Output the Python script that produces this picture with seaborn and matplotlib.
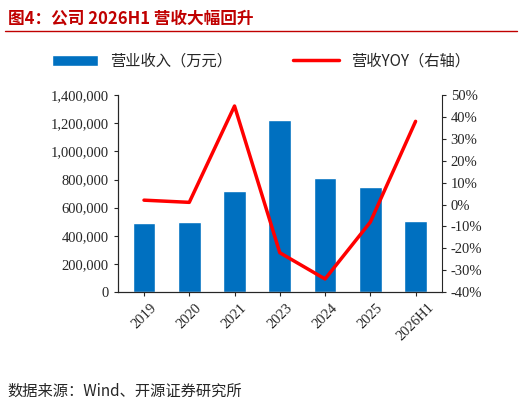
import matplotlib
matplotlib.use("Agg")
import matplotlib.pyplot as plt
import seaborn as sns
import pandas as pd
from matplotlib.ticker import FuncFormatter

years = ["2019", "2020", "2021", "2023", "2024", "2025", "2026H1"]
revenue = [490000, 495000, 720000, 1220000, 810000, 745000, 505000]
yoy = [2, 1, 45, -22, -34, -8, 38]

sns.set_style("white")
plt.rcParams['font.family'] = ['Noto Sans CJK SC', 'DejaVu Sans']
df = pd.DataFrame({"year": years, "rev": revenue, "yoy": yoy})

fig = plt.figure(figsize=(5.22, 4.08), dpi=100)
ax = fig.add_axes([0.226, 0.284, 0.62, 0.483])
sns.barplot(data=df, x="year", y="rev", color="#0070C0", width=0.5, ax=ax,
            saturation=1, label="营业收入（万元）")
ax.set_ylim(0, 1400000)
ax.set_yticks(range(0, 1400001, 200000))
ax.yaxis.set_major_formatter(FuncFormatter(lambda v, p: f"{int(v):,}"))
ax.set_xlabel(""); ax.set_ylabel("")
for lab in ax.get_xticklabels():
    lab.set_rotation(45); lab.set_fontfamily("Liberation Serif")
for lab in ax.get_yticklabels():
    lab.set_fontfamily("Liberation Serif")
ax.tick_params(labelsize=10.5, length=3, direction="out", left=True, bottom=True)
for s in ["top", "right"]:
    ax.spines[s].set_visible(False)

ax2 = ax.twinx()
sns.lineplot(x=range(len(years)), y=yoy, color="#FF0000", linewidth=2.5, ax=ax2,
             label="营收YOY（右轴）", legend=False)
ax2.set_ylim(-40, 50)
ax2.set_yticks(range(-40, 51, 10))
ax2.yaxis.set_major_formatter(FuncFormatter(lambda v, p: f"{int(v)}%"))
for lab in ax2.get_yticklabels():
    lab.set_fontfamily("Liberation Serif")
ax2.tick_params(labelsize=10.5, length=3, right=True)
ax2.spines["top"].set_visible(False)
ax2.set_ylabel("")

h1, l1 = ax.get_legend_handles_labels()
h2, l2 = ax2.get_legend_handles_labels()
if ax.get_legend(): ax.get_legend().remove()
fig.legend(h1 + h2, l1 + l2, loc="upper center", bbox_to_anchor=(0.5, 0.905), ncol=2,
           frameon=False, fontsize=11, columnspacing=4, handlelength=3)

fig.text(0.015, 0.955, "图4：公司 2026H1 营收大幅回升", fontsize=12, fontweight="bold",
         color="#C00000", va="center")
fig.add_artist(plt.Line2D([0.01, 0.99], [0.925, 0.925], color="#C00000", lw=1))
fig.text(0.015, 0.04, "数据来源：Wind、开源证券研究所", fontsize=11, va="center")
fig.savefig("out.png", dpi=100)
